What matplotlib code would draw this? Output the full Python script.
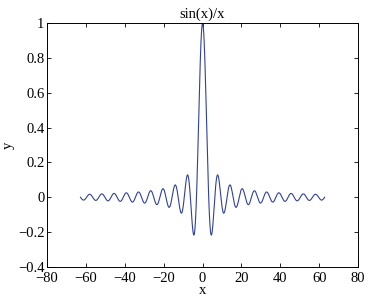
import matplotlib
matplotlib.use('Agg')
import matplotlib.pyplot as plt
import numpy as np

# curve as titled: sin(x)/x over -20*pi .. 20*pi
x_start = -20 * np.pi
x_end = 20 * np.pi
n_points = 1000
x = np.linspace(x_start, x_end, n_points)
y = np.sin(x) / x

xticks = [-80, -60, -40, -20, 0, 20, 40, 60, 80]
yticks = [-0.4, -0.2, 0, 0.2, 0.4, 0.6, 0.8, 1]
ytick_labels = ['\u22120.4', '\u22120.2', '0', '0.2', '0.4', '0.6', '0.8', '1']
xtick_labels = [('\u2212' + str(-t)) if t < 0 else str(t) for t in xticks]

plt.rcParams['font.family'] = ['Liberation Serif', 'DejaVu Serif']
plt.rcParams['font.size'] = 10.5

fig = plt.figure(figsize=(3.68, 3.03), dpi=100)
ax = fig.add_axes([0.128, 0.119, 0.845, 0.805])
ax.plot(x, y, color='#3040a0', linewidth=0.8)
ax.set_xlim(-80, 80)
ax.set_ylim(-0.4, 1)
ax.set_xticks(xticks)
ax.set_xticklabels(xtick_labels)
ax.set_yticks(yticks)
ax.set_yticklabels(ytick_labels)
ax.tick_params(direction='in', top=True, right=True, length=3, width=0.6)
ax.tick_params(axis='x', pad=4)
ax.tick_params(axis='y', pad=2)
for s in ax.spines.values():
    s.set_linewidth(0.7)
ax.set_title('sin(x)/x', fontsize=10.5, pad=4)
ax.set_xlabel('x', labelpad=-1)
ax.set_ylabel('y', labelpad=2)
fig.savefig('out.png', dpi=100)
